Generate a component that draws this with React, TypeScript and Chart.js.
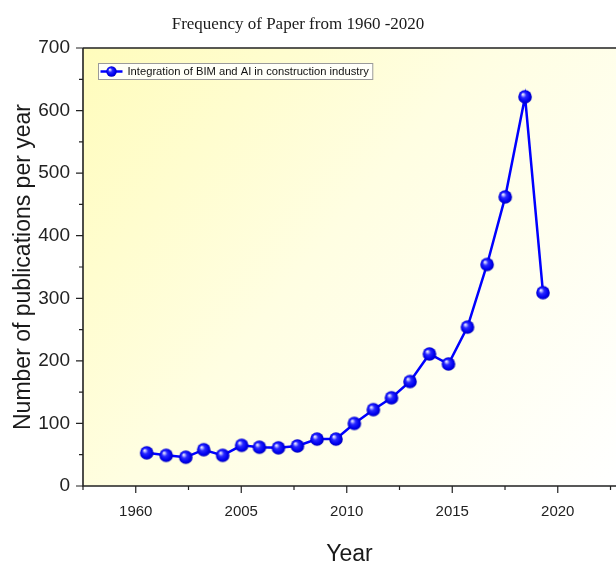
import React, { useEffect, useRef } from "react";
import { Chart, registerables } from "chart.js";

Chart.register(...registerables);

const chartTitle = "Frequency of Paper from 1960 -2020";
const seriesLabel = "Integration of BIM and AI in construction industry";
const xAxisTitle = "Year";
const yAxisTitle = "Number of publications per year";

const years = [
  2000.52, 2001.44, 2002.37, 2003.22, 2004.12, 2005.02, 2005.86, 2006.76,
  2007.66, 2008.59, 2009.49, 2010.36, 2011.26, 2012.12, 2013.0, 2013.92,
  2014.82, 2015.72, 2016.65, 2017.51, 2018.45, 2019.3,
];
const publications = [
  53, 49, 46, 58, 49, 65, 62, 61, 64, 75, 75, 100, 122, 141, 167, 211, 195,
  254, 354, 462, 622, 309,
];

const xTickValues = [2000, 2005, 2010, 2015, 2020];
const xTickLabels = ["1960", "2005", "2010", "2015", "2020"];
const yTickValues = [0, 100, 200, 300, 400, 500, 600, 700];

function makeBall(r: number): HTMLCanvasElement {
  const size = Math.ceil(r * 2 + 2);
  const c = document.createElement("canvas");
  c.width = size;
  c.height = size;
  const ctx = c.getContext("2d")!;
  const cx = size / 2;
  const g = ctx.createRadialGradient(
    cx - r * 0.35,
    cx - r * 0.4,
    0,
    cx,
    cx,
    r * 1.05
  );
  g.addColorStop(0, "#ffffff");
  g.addColorStop(0.15, "#b8b8ff");
  g.addColorStop(0.38, "#2a2aff");
  g.addColorStop(0.75, "#0000f0");
  g.addColorStop(1, "#0000b0");
  ctx.fillStyle = g;
  ctx.beginPath();
  ctx.arc(cx, cx, r, 0, Math.PI * 2);
  ctx.fill();
  return c;
}

export default function App() {
  const ref = useRef<HTMLCanvasElement | null>(null);

  useEffect(() => {
    if (!ref.current) return;
    const ball = makeBall(6.8);
    const smallBall = makeBall(5.2);

    const decor = {
      id: "decor",
      beforeDraw(chart: any) {
        const { ctx, chartArea: a, width, height } = chart;
        ctx.save();
        ctx.fillStyle = "#ffffff";
        ctx.fillRect(0, 0, width, height);
        const g = ctx.createLinearGradient(a.left, a.top, a.right, a.bottom);
        g.addColorStop(0, "#fffcbc");
        g.addColorStop(0.45, "#fffee2");
        g.addColorStop(1, "#ffffff");
        ctx.fillStyle = g;
        ctx.fillRect(a.left, a.top, a.right - a.left, a.bottom - a.top);
        ctx.restore();
      },
      afterDraw(chart: any) {
        const { ctx, chartArea: a, scales } = chart;
        const xs = scales.x;
        const ys = scales.y;
        ctx.save();
        ctx.strokeStyle = "#222222";
        ctx.lineWidth = 1.6;
        ctx.beginPath();
        ctx.moveTo(a.left, a.top);
        ctx.lineTo(chart.width, a.top);
        ctx.moveTo(a.left, a.top);
        ctx.lineTo(a.left, a.bottom);
        ctx.lineTo(chart.width, a.bottom);
        ctx.stroke();
        // y ticks
        ctx.lineWidth = 1.2;
        ctx.beginPath();
        for (let i = 0; i < yTickValues.length; i++) {
          const v = yTickValues[i];
          const p = ys.getPixelForValue(v);
          ctx.moveTo(a.left, p);
          ctx.lineTo(a.left - 7, p);
          if (i < yTickValues.length - 1) {
            const pm = ys.getPixelForValue((v + yTickValues[i + 1]) / 2);
            ctx.moveTo(a.left, pm);
            ctx.lineTo(a.left - 4, pm);
          }
        }
        // x ticks
        const xmin = xs.min;
        const xmax = xs.max;
        for (let i = 0; i < xTickValues.length; i++) {
          const v = xTickValues[i];
          const p = xs.getPixelForValue(v);
          ctx.moveTo(p, a.bottom);
          ctx.lineTo(p, a.bottom + 7);
        }
        const step = (xTickValues[1] - xTickValues[0]) / 2;
        for (let v = xTickValues[0] - step; v <= xmax; v += step * 2) {
          if (v < xmin) continue;
          const p = xs.getPixelForValue(v);
          ctx.moveTo(p, a.bottom);
          ctx.lineTo(p, a.bottom + 4);
        }
        ctx.stroke();

        // title
        ctx.fillStyle = "#1a1a1a";
        ctx.font = '17px "Liberation Serif", "Times New Roman", serif';
        ctx.textAlign = "center";
        ctx.textBaseline = "middle";
        ctx.fillText(chartTitle, 298, 25);

        // legend
        const lx = 98.5;
        const ly = 63.5;
        ctx.font = '11.2px "Liberation Sans", Arial, sans-serif';
        const tw = ctx.measureText(seriesLabel).width;
        const lw = tw + 33;
        ctx.fillStyle = "rgba(255,255,255,0.85)";
        ctx.fillRect(lx, ly, lw, 16);
        ctx.strokeStyle = "#9a9a9a";
        ctx.lineWidth = 1;
        ctx.strokeRect(lx, ly, lw, 16);
        ctx.strokeStyle = "#0000ff";
        ctx.lineWidth = 2.5;
        ctx.beginPath();
        ctx.moveTo(lx + 2, ly + 8);
        ctx.lineTo(lx + 24, ly + 8);
        ctx.stroke();
        ctx.drawImage(
          smallBall,
          lx + 13 - smallBall.width / 2,
          ly + 8 - smallBall.height / 2
        );
        ctx.fillStyle = "#111111";
        ctx.textAlign = "left";
        ctx.fillText(seriesLabel, lx + 29, ly + 8.5);
        ctx.restore();
      },
    };

    const chart = new Chart(ref.current, {
      type: "line",
      data: {
        datasets: [
          {
            label: seriesLabel,
            data: years.map((x, i) => ({ x, y: publications[i] })),
            borderColor: "#0000ff",
            backgroundColor: "#0000ff",
            borderWidth: 2.5,
            tension: 0,
            pointStyle: ball as any,
            pointRadius: 6.8,
            pointHoverRadius: 6.8,
          },
        ],
      },
      options: {
        animation: false,
        responsive: false,
        events: [],
        layout: {
          autoPadding: false,
          padding: { top: 48, right: 0, bottom: 0, left: 0 },
        },
        plugins: {
          legend: { display: false },
          title: { display: false },
          tooltip: { enabled: false },
        },
        scales: {
          x: {
            type: "linear",
            min: 1997.5,
            max: 2022.76,
            grid: { display: false, drawTicks: false },
            border: { display: false },
            afterFit: (s: any) => {
              s.height = 77;
            },
            afterBuildTicks: (s: any) => {
              s.ticks = xTickValues.map((v) => ({ value: v }));
            },
            ticks: {
              padding: 17,
              color: "#222222",
              font: { size: 15, family: '"Liberation Sans", Arial, sans-serif' },
              callback: (v: any) => {
                const i = xTickValues.indexOf(Number(v));
                return i >= 0 ? xTickLabels[i] : "";
              },
              maxRotation: 0,
              autoSkip: false,
            },
            title: {
              display: true,
              text: xAxisTitle,
              color: "#1a1a1a",
              font: {
                size: 23,
                lineHeight: 0.7,
                family: '"Liberation Sans", Arial, sans-serif',
              },
              padding: { top: 0, bottom: 0 },
            },
          },
          y: {
            type: "linear",
            min: 0,
            max: 700,
            grid: { display: false, drawTicks: false },
            border: { display: false },
            afterFit: (s: any) => {
              s.width = 83;
            },
            afterBuildTicks: (s: any) => {
              s.ticks = yTickValues.map((v) => ({ value: v }));
            },
            ticks: {
              padding: 13,
              color: "#222222",
              font: { size: 19, family: '"Liberation Sans", Arial, sans-serif' },
            },
            title: {
              display: true,
              text: yAxisTitle,
              color: "#1a1a1a",
              font: {
                size: 23,
                lineHeight: 1.2,
                family: '"Liberation Sans", Arial, sans-serif',
              },
              padding: { top: 10, bottom: 0 },
            },
          },
        },
      },
      plugins: [decor],
    });
    return () => chart.destroy();
  }, []);

  return (
    <div
      style={{
        position: "absolute",
        left: 0,
        top: 0,
        width: 616,
        height: 563,
        overflow: "hidden",
      }}
    >
      <canvas ref={ref} width={616} height={563} style={{ display: "block" }} />
    </div>
  );
}
